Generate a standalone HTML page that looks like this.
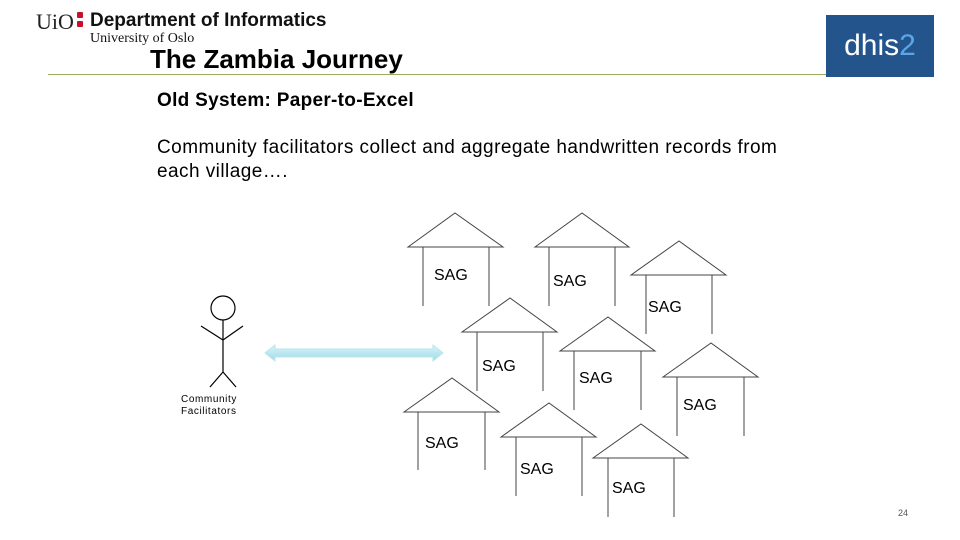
<!DOCTYPE html>
<html><head><style>
body{margin:0;width:960px;height:540px;background:#fff;position:relative;overflow:hidden;font-family:"Liberation Sans",Arial,sans-serif}
.a{position:absolute;white-space:nowrap}
</style></head><body>
<div class="a" style="left:36px;top:9px;font-family:'Liberation Serif',serif;font-size:22px;color:#222">UiO</div>
<div class="a" style="left:77px;top:12px;width:6px;height:6px;background:#c8102e;border-radius:1px"></div>
<div class="a" style="left:77px;top:21px;width:6px;height:6px;background:#c8102e;border-radius:1px"></div>
<div class="a" style="left:90px;top:10px;font-size:19px;font-weight:bold;color:#111">Department of Informatics</div>
<div class="a" style="left:90px;top:31px;font-family:'Liberation Serif',serif;font-size:14px;color:#111">University of Oslo</div>
<div class="a" style="left:150px;top:44px;font-size:26px;font-weight:bold;color:#000">The Zambia Journey</div>
<div class="a" style="left:48px;top:74px;width:864px;height:1px;background:#9aab5a"></div>
<div class="a" style="left:826px;top:15px;width:108px;height:62px;background:#24548c;color:#fff;font-size:30px;line-height:62px;text-align:center">dhis<span style="color:#5aa7e8">2</span></div>
<div class="a" style="left:157px;top:90px;font-size:19px;font-weight:bold;letter-spacing:0.3px">Old System: Paper-to-Excel</div>
<div class="a" style="left:157px;top:136px;font-size:19px;line-height:24px;letter-spacing:0.45px">Community facilitators collect and aggregate handwritten records from<br>each village….</div>
<svg class="a" style="left:0;top:0" width="960" height="540">
<defs><linearGradient id="g" x1="0" y1="0" x2="0" y2="1"><stop offset="0" stop-color="#d8f4f8"/><stop offset="1" stop-color="#9fdbe6"/></linearGradient></defs>
<g stroke="#444" fill="none" stroke-width="1">
<polygon points="408,247 455,213 503,247"/><line x1="423" y1="247" x2="423" y2="306"/><line x1="489" y1="247" x2="489" y2="306"/>
<polygon points="535,247 582,213 629,247"/><line x1="549" y1="247" x2="549" y2="306"/><line x1="615" y1="247" x2="615" y2="306"/>
<polygon points="631,275 679,241 726,275"/><line x1="646" y1="275" x2="646" y2="334"/><line x1="712" y1="275" x2="712" y2="334"/>
<polygon points="462,332 510,298 557,332"/><line x1="477" y1="332" x2="477" y2="391"/><line x1="543" y1="332" x2="543" y2="391"/>
<polygon points="560,351 608,317 655,351"/><line x1="574" y1="351" x2="574" y2="410"/><line x1="641" y1="351" x2="641" y2="410"/>
<polygon points="663,377 711,343 758,377"/><line x1="677" y1="377" x2="677" y2="436"/><line x1="744" y1="377" x2="744" y2="436"/>
<polygon points="404,412 452,378 499,412"/><line x1="418" y1="412" x2="418" y2="470"/><line x1="485" y1="412" x2="485" y2="470"/>
<polygon points="501,437 549,403 596,437"/><line x1="516" y1="437" x2="516" y2="496"/><line x1="582" y1="437" x2="582" y2="496"/>
<polygon points="593,458 641,424 688,458"/><line x1="608" y1="458" x2="608" y2="517"/><line x1="674" y1="458" x2="674" y2="517"/>
</g>
<g font-family="Liberation Sans,Arial,sans-serif" font-size="16" fill="#000">
<text x="434" y="280">SAG</text><text x="553" y="286">SAG</text><text x="648" y="312">SAG</text>
<text x="482" y="371">SAG</text><text x="579" y="383">SAG</text><text x="683" y="410">SAG</text>
<text x="425" y="448">SAG</text><text x="520" y="474">SAG</text><text x="612" y="493">SAG</text>
</g>
<g stroke="#000" fill="none" stroke-width="1.2">
<circle cx="223" cy="308" r="12"/><line x1="223" y1="320" x2="223" y2="372"/>
<polyline points="201,326 223,340 243,326"/><polyline points="210,387 223,372 236,387"/>
</g>
<polygon points="265,353 275,345 275,349 433,349 433,345 443,353 433,361 433,357 275,357 275,361" fill="url(#g)" stroke="#b8e6ee" stroke-width="1"/>
<text x="181" y="402" font-family="Liberation Sans,Arial,sans-serif" font-size="10" letter-spacing="0.6">Community</text>
<text x="181" y="414" font-family="Liberation Sans,Arial,sans-serif" font-size="10" letter-spacing="0.6">Facilitators</text>
<text x="898" y="516" font-family="Liberation Sans,Arial,sans-serif" font-size="9" fill="#555">24</text>
</svg>
</body></html>
